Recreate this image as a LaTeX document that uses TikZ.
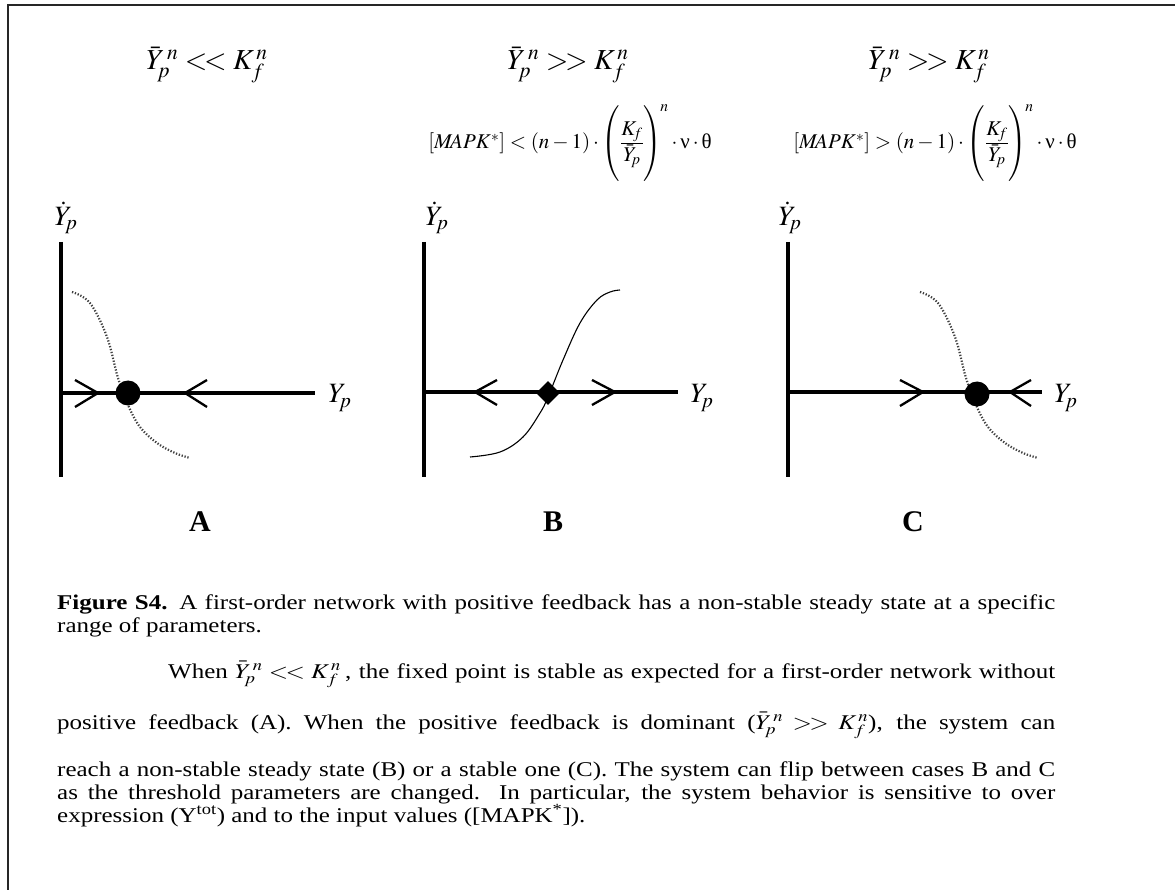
\documentclass[tikz,border=0pt]{standalone}
\usepackage{graphicx}
\usepackage{mathptmx}
\usepackage{fontspec}
\setmainfont{Liberation Serif}
\usetikzlibrary{shapes.geometric}
\newcommand{\lsym}{\mathrel{<\!<}}
\newcommand{\gsym}{\mathrel{>\!>}}
\newcommand{\upnu}{\mbox{ν}}
\newcommand{\uptheta}{\mbox{θ}}
\newcommand{\bigstrut}{\vrule height 34pt depth 30pt width 0pt}
\newcommand{\kyfrac}{\frac{\mbox{$K_{\!f}$}}{\mbox{$\bar{Y}_{\!p}$}}}
\newcommand{\capx}{1.19}
\newcommand{\jline}[2]{\scalebox{\capx}[1]{\makebox[#1][s]{#2}}}
\newcommand{\pline}[1]{\scalebox{\capx}[1]{#1}}
\begin{document}
\begin{tikzpicture}[x=1pt,y=-1pt,
  axis/.style={line width=4.6pt},
  chev/.style={line width=2.3pt},
  dotcurve/.style={line width=2.2pt, black!75, dash pattern=on 1.3pt off 1.7pt},
  solidcurve/.style={line width=1.1pt, black},
  frame/.style={line width=1.6pt, black!85},
  fixpt/.style={circle, fill=black, minimum size=25pt, inner sep=0pt},
  unstab/.style={diamond, fill=black, minimum size=24pt, inner sep=0pt},
  axlabel/.style={font=\fontsize{28}{32}\selectfont, inner sep=0pt},
  toplabel/.style={font=\fontsize{29}{34}\selectfont, inner sep=0pt},
  condlabel/.style={font=\fontsize{21}{24}\selectfont, inner sep=0pt},
  panlabel/.style={font=\fontsize{30}{34}\selectfont\bfseries, inner sep=0pt},
  capline/.style={font=\fontsize{21}{23}\selectfont, inner sep=0pt, anchor=base west},
]
\useasboundingbox (0,0) rectangle (1175,890);
% frame (left and top only)
\coordinate (f1) at (8,890);
\coordinate (f2) at (8,5);
\coordinate (f3) at (1175,5);
\draw[frame] (f1) -- (f2) -- (f3);

% top labels
\node[toplabel] (tA) at (207,65) {$\bar{Y}_{\!p}^{\,n} \lsym K_f^{\,n}$};
\node[toplabel] (tB) at (568,65) {$\bar{Y}_{\!p}^{\,n} \gsym K_f^{\,n}$};
\node[toplabel] (tC) at (929,65) {$\bar{Y}_{\!p}^{\,n} \gsym K_f^{\,n}$};
\node[condlabel] (cB) at (570,143) {$[M\!APK^{*}] < (n-1)\cdot\left(\bigstrut\kyfrac\right)^{\!n}\cdot\upnu\cdot\uptheta$};
\node[condlabel] (cC) at (935,143) {$[M\!APK^{*}] > (n-1)\cdot\left(\bigstrut\kyfrac\right)^{\!n}\cdot\upnu\cdot\uptheta$};

% ---------- Panel A ----------
\coordinate (oA) at (61,393);
\coordinate (vAt) at (61,242);
\coordinate (vAb) at (61,477);
\coordinate (hAr) at (315,393);
\draw[dotcurve] plot[smooth, tension=0.6] coordinates {(72,292) (90,303) (107,337) (118,378) (128,405) (140,427) (157,443) (175,453) (190,458)};
\draw[axis] (vAt) -- (vAb);
\draw[axis] (oA) -- (hAr);
\coordinate (a1a) at (75,380); \coordinate (a1t) at (98,393); \coordinate (a1b) at (75,407);
\draw[chev] (a1a) -- (a1t) -- (a1b);
\coordinate (a2a) at (207,380); \coordinate (a2t) at (185,393); \coordinate (a2b) at (207,407);
\draw[chev] (a2a) -- (a2t) -- (a2b);
\node[fixpt] (fpA) at (128,393) {};
\node[axlabel] (ydA) at (66,218) {$\dot{Y}_{\!p}$};
\node[axlabel] (ypA) at (340,398) {$Y_{\!p}$};
\node[panlabel] (lA) at (200,522) {A};

% ---------- Panel B ----------
\coordinate (oB) at (424,392);
\coordinate (vBt) at (424,242);
\coordinate (vBb) at (424,477);
\coordinate (hBr) at (678,392);
\draw[solidcurve] plot[smooth, tension=0.6] coordinates {(470,457) (500,452) (523,437) (540,413) (548,397) (563,360) (580,323) (597,300) (610,292) (620,290)};
\draw[axis] (vBt) -- (vBb);
\draw[axis] (oB) -- (hBr);
\coordinate (b1a) at (497,380); \coordinate (b1t) at (475,392); \coordinate (b1b) at (497,405);
\draw[chev] (b1a) -- (b1t) -- (b1b);
\coordinate (b2a) at (592,380); \coordinate (b2t) at (615,392); \coordinate (b2b) at (592,405);
\draw[chev] (b2a) -- (b2t) -- (b2b);
\node[unstab] (fpB) at (548,393) {};
\node[axlabel] (ydB) at (437,218) {$\dot{Y}_{\!p}$};
\node[axlabel] (ypB) at (702,398) {$Y_{\!p}$};
\node[panlabel] (lB) at (553,522) {B};

% ---------- Panel C ----------
\coordinate (oC) at (788,392);
\coordinate (vCt) at (788,242);
\coordinate (vCb) at (788,477);
\coordinate (hCr) at (1042,392);
\draw[dotcurve] plot[smooth, tension=0.6] coordinates {(920,292) (938,303) (955,337) (966,378) (976,405) (988,427) (1005,443) (1023,453) (1038,458)};
\draw[axis] (vCt) -- (vCb);
\draw[axis] (oC) -- (hCr);
\coordinate (c1a) at (900,380); \coordinate (c1t) at (923,392); \coordinate (c1b) at (900,406);
\draw[chev] (c1a) -- (c1t) -- (c1b);
\coordinate (c2a) at (1031,380); \coordinate (c2t) at (1010,392); \coordinate (c2b) at (1031,406);
\draw[chev] (c2a) -- (c2t) -- (c2b);
\node[fixpt] (fpC) at (977,394) {};
\node[axlabel] (ydC) at (790,218) {$\dot{Y}_{\!p}$};
\node[axlabel] (ypC) at (1066,398) {$Y_{\!p}$};
\node[panlabel] (lC) at (913,522) {C};

% ---------- Caption ----------
\node[capline] (l1) at (57,609) {\jline{838.7pt}{\textbf{Figure S4.} A first-order network with positive feedback has a non-stable steady state at a specific}};
\node[capline] (l2) at (57,632) {\pline{range of parameters.}};
\node[capline] (l3) at (168,678) {\jline{745.4pt}{When $\bar{Y}_{\!p}^{\,n} \lsym K_f^{\,n}$\,, the fixed point is stable as expected for a first-order network without}};
\node[capline] (l4) at (57,729) {\jline{838.7pt}{positive feedback (A). When the positive feedback is dominant ($\bar{Y}_{\!p}^{\,n} \gsym K_f^{\,n}$), the system can}};
\node[capline] (l5) at (57,776) {\jline{838.7pt}{reach a non-stable steady state (B) or a stable one (C). The system can flip between cases B and C}};
\node[capline] (l6) at (57,799) {\jline{838.7pt}{as the threshold parameters are changed. In particular, the system behavior is sensitive to over}};
\node[capline] (l7) at (57,822) {\pline{expression (Y\textsuperscript{tot}) and to the input values ([MAPK\textsuperscript{*}]).}};
\end{tikzpicture}
\end{document}
